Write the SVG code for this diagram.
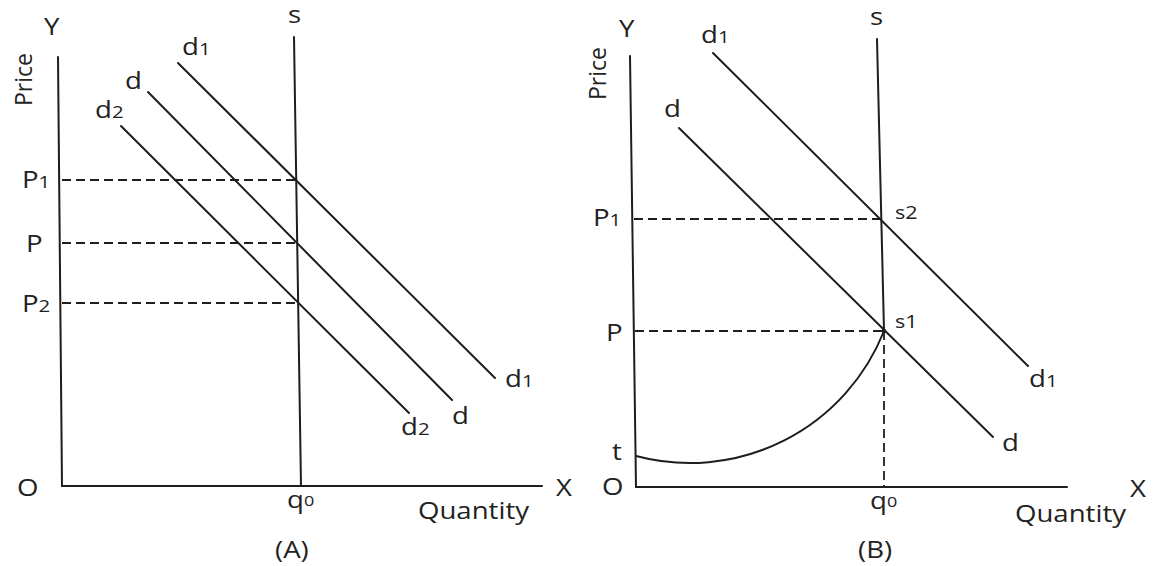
<svg xmlns="http://www.w3.org/2000/svg" width="1156" height="566" viewBox="0 0 1156 566">
<style>
.ln{stroke:#1e1e1e;stroke-width:2;fill:none;stroke-linecap:round}
.ds{stroke:#1e1e1e;stroke-width:1.8;fill:none;stroke-dasharray:9 5}
text{font-family:"Open Sans","Liberation Sans",sans-serif;font-size:23px;fill:#222}
.sm{font-size:17px}
.xs{font-size:15px}
.pt{font-size:18px}
</style>
<rect width="1156" height="566" fill="#fff"/>
<g id="panelA">
 <g id="axesA">
  <line class="ln" x1="58" y1="57" x2="62" y2="486"/>
  <line class="ln" x1="62" y1="486" x2="542" y2="486"/>
  <text transform="matrix(1.2,0,0,1,44,35)">Y</text>
  <text transform="matrix(1.2,0,0,1,556,496)">X</text>
  <text transform="matrix(1.2,0,0,1,17,496)">O</text>
  <text transform="translate(32,106) rotate(-90)">Price</text>
  <text transform="matrix(1.2,0,0,1,418,519)">Quantity</text>
  <text transform="matrix(1.2,0,0,1,275,558)">(A)</text>
 </g>
 <g id="supplyA">
  <line class="ln" x1="294" y1="37" x2="301" y2="486"/>
  <text transform="matrix(1.2,0,0,1,288,23)">s</text>
  <text transform="matrix(1.2,0,0,1,287,508)">q<tspan class="xs" dy="-2">0</tspan></text>
 </g>
 <g id="pricesA">
  <line class="ds" x1="62" y1="180" x2="296" y2="180"/>
  <line class="ds" x1="62" y1="243" x2="298" y2="243"/>
  <line class="ds" x1="62" y1="303" x2="299" y2="303"/>
  <text transform="matrix(1.2,0,0,1,22,188)">P<tspan class="sm">1</tspan></text>
  <text transform="matrix(1.2,0,0,1,26,252)">P</text>
  <text transform="matrix(1.2,0,0,1,22,312)">P<tspan class="sm">2</tspan></text>
 </g>
 <g id="d1A">
  <line class="ln" x1="178" y1="63" x2="495" y2="378"/>
  <text transform="matrix(1.2,0,0,1,182,55)">d<tspan class="sm">1</tspan></text>
  <text transform="matrix(1.2,0,0,1,505,387)">d<tspan class="sm">1</tspan></text>
 </g>
 <g id="dA">
  <line class="ln" x1="148" y1="92" x2="452" y2="400"/>
  <text transform="matrix(1.2,0,0,1,125,89)">d</text>
  <text transform="matrix(1.2,0,0,1,452,424)">d</text>
 </g>
 <g id="d2A">
  <line class="ln" x1="121" y1="126" x2="409" y2="413"/>
  <text transform="matrix(1.2,0,0,1,95,118)">d<tspan class="sm">2</tspan></text>
  <text transform="matrix(1.2,0,0,1,401,435)">d<tspan class="sm">2</tspan></text>
 </g>
</g>
<g id="panelB">
 <g id="axesB">
  <line class="ln" x1="630" y1="56" x2="636" y2="487"/>
  <line class="ln" x1="636" y1="487" x2="1067" y2="487"/>
  <text transform="matrix(1.2,0,0,1,619,37)">Y</text>
  <text transform="matrix(1.2,0,0,1,1130,497)">X</text>
  <text transform="matrix(1.2,0,0,1,602,495)">O</text>
  <text transform="translate(606,100) rotate(-90)">Price</text>
  <text transform="matrix(1.2,0,0,1,1015,522)">Quantity</text>
  <text transform="matrix(1.2,0,0,1,858,558)">(B)</text>
 </g>
 <g id="supplyB">
  <line class="ln" x1="877" y1="39" x2="884" y2="331"/>
  <line class="ds" x1="884" y1="331" x2="884" y2="487"/>
  <text transform="matrix(1.2,0,0,1,870,25)">s</text>
  <text transform="matrix(1.2,0,0,1,870,509)">q<tspan class="xs" dy="-2">0</tspan></text>
  <text class="pt" transform="matrix(1.2,0,0,1,895,219)">s2</text>
  <text class="pt" transform="matrix(1.2,0,0,1,895,328)">s1</text>
  <circle cx="884" cy="331" r="2.2" fill="#1e1e1e"/>
 </g>
 <g id="pricesB">
  <line class="ds" x1="634" y1="219" x2="881" y2="219"/>
  <line class="ds" x1="635" y1="331" x2="883" y2="331"/>
  <text transform="matrix(1.2,0,0,1,593,226)">P<tspan class="sm">1</tspan></text>
  <text transform="matrix(1.2,0,0,1,606,341)">P</text>
 </g>
 <g id="d1B">
  <line class="ln" x1="713" y1="53" x2="1028" y2="366"/>
  <text transform="matrix(1.2,0,0,1,701,43)">d<tspan class="sm">1</tspan></text>
  <text transform="matrix(1.2,0,0,1,1029,387)">d<tspan class="sm">1</tspan></text>
 </g>
 <g id="dB">
  <line class="ln" x1="679" y1="128" x2="993" y2="437"/>
  <text transform="matrix(1.2,0,0,1,664,117)">d</text>
  <text transform="matrix(1.2,0,0,1,1002,451)">d</text>
 </g>
 <g id="curveB">
  <path class="ln" d="M636,456 A209,209 0 0 0 884,331"/>
  <text transform="matrix(1.2,0,0,1,612,460)">t</text>
 </g>
</g>
</svg>
